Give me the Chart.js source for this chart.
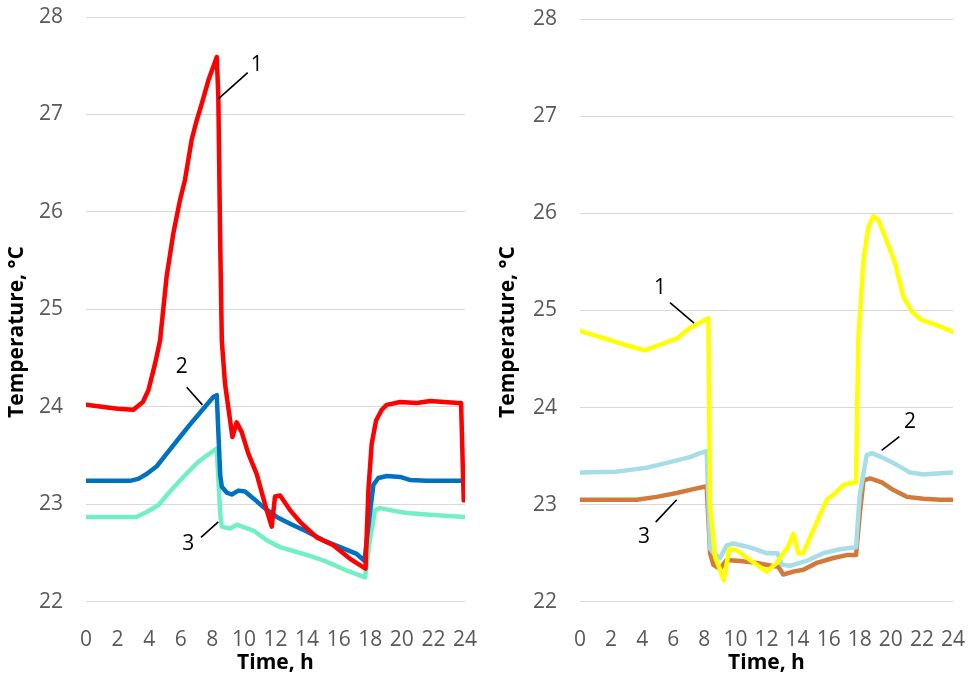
<!DOCTYPE html>
<html>
<head>
<meta charset="utf-8">
<script src="https://cdn.jsdelivr.net/npm/chart.js@4.4.1/dist/chart.umd.min.js"></script>
<style>
    body { margin: 0; background: #ffffff; }
    #left-wrap { position: absolute; left: 0; top: 0; width: 485px; height: 677px; }
    #right-wrap { position: absolute; left: 490px; top: 0; width: 481px; height: 677px; }
</style>
</head>
<body>
<div id="left-wrap"><canvas id="left-chart" width="485" height="677"></canvas></div>
<div id="right-wrap"><canvas id="right-chart" width="481" height="677"></canvas></div>
<script>
// left panel: 1 - red, 2 - blue, 3 - aquamarine
const leftTimes1 = [0, 1, 2, 3, 3.6, 3.95, 4.37, 4.69, 5.1, 5.53, 5.95, 6.27, 6.69, 7.01, 7.33, 7.75, 8.28, 8.38, 8.49, 8.6, 8.8, 9.27, 9.54, 9.86, 10.28, 10.81, 11.44, 11.76, 11.97, 12.29, 12.92, 13.55, 14.61, 15.66, 16.72, 17.7, 17.88, 18.09, 18.37, 18.73, 19.04, 19.89, 20.95, 21.79, 23.58, 23.75, 23.92];
const leftTemps1 = [24.02, 24.0, 23.98, 23.97, 24.05, 24.17, 24.44, 24.68, 25.33, 25.78, 26.12, 26.33, 26.74, 26.94, 27.11, 27.35, 27.59, 27.18, 25.78, 24.68, 24.24, 23.69, 23.84, 23.74, 23.52, 23.31, 22.94, 22.77, 23.08, 23.09, 22.94, 22.82, 22.66, 22.58, 22.44, 22.34, 23.14, 23.62, 23.86, 23.97, 24.02, 24.05, 24.04, 24.06, 24.04, 24.04, 23.04];

const leftTimes2 = [0, 2.78, 3.31, 3.84, 4.48, 5.11, 5.95, 6.8, 7.43, 8.06, 8.28, 8.5, 8.6, 8.91, 9.23, 9.65, 10.07, 10.6, 11.23, 12.08, 12.92, 13.98, 15.03, 16.09, 17.14, 17.63, 17.9, 18.2, 18.52, 19.04, 19.89, 20.5, 21.57, 24];
const leftTemps2 = [23.24, 23.24, 23.26, 23.31, 23.39, 23.52, 23.69, 23.86, 23.98, 24.1, 24.12, 23.3, 23.18, 23.12, 23.1, 23.14, 23.13, 23.06, 22.97, 22.87, 22.8, 22.72, 22.63, 22.56, 22.49, 22.42, 22.8, 23.2, 23.27, 23.29, 23.28, 23.25, 23.24, 23.24];

const leftTimes3 = [0, 3.2, 3.84, 4.58, 5.32, 6.16, 7.01, 7.64, 8.28, 8.5, 8.6, 9.12, 9.54, 10.6, 11.44, 12.29, 13.13, 14.18, 15.24, 16.51, 17.67, 17.95, 18.3, 18.62, 19.25, 20.31, 21.99, 24];
const leftTemps3 = [22.87, 22.87, 22.92, 22.99, 23.13, 23.28, 23.42, 23.5, 23.57, 22.9, 22.77, 22.75, 22.79, 22.73, 22.63, 22.56, 22.52, 22.47, 22.41, 22.32, 22.25, 22.6, 22.94, 22.96, 22.94, 22.91, 22.89, 22.87];

// right panel: 1 - yellow, 2 - light blue, 3 - brown
const rightTimes1 = [0, 1.2, 2.8, 4.18, 5.36, 6.22, 7.08, 8.26, 8.37, 8.69, 9.01, 9.25, 9.6, 10.08, 10.94, 12.01, 12.66, 13.4, 13.73, 14.05, 14.37, 15.02, 15.88, 16.3, 16.95, 17.37, 17.76, 17.91, 18.24, 18.56, 18.88, 19.2, 19.63, 20.27, 20.81, 21.35, 21.99, 22.96, 24];
const rightTemps1 = [24.79, 24.73, 24.65, 24.59, 24.66, 24.71, 24.82, 24.92, 23.0, 22.46, 22.33, 22.22, 22.54, 22.53, 22.43, 22.31, 22.4, 22.57, 22.7, 22.5, 22.5, 22.74, 23.05, 23.1, 23.2, 23.22, 23.23, 24.7, 25.52, 25.86, 25.97, 25.93, 25.76, 25.49, 25.14, 24.99, 24.9, 24.85, 24.78];

const rightTimes2 = [0, 2.36, 4.29, 5.58, 7.08, 7.72, 8.15, 8.37, 8.6, 9.01, 9.44, 9.87, 10.94, 12.01, 12.7, 13.0, 13.51, 14.58, 15.66, 16.73, 17.76, 18.0, 18.45, 18.77, 19.52, 20.38, 21.24, 22.1, 22.96, 24];
const rightTemps2 = [23.33, 23.34, 23.38, 23.43, 23.49, 23.53, 23.55, 22.55, 22.5, 22.45, 22.58, 22.6, 22.56, 22.5, 22.5, 22.38, 22.37, 22.42, 22.5, 22.54, 22.56, 23.1, 23.51, 23.53, 23.48, 23.41, 23.33, 23.31, 23.32, 23.33];

const rightTimes3 = [0, 3.65, 4.93, 6.22, 7.29, 8.15, 8.37, 8.58, 9.01, 9.44, 10.29, 11.37, 12.3, 12.76, 13.08, 13.73, 14.37, 15.23, 16.3, 17.16, 17.76, 18.0, 18.24, 18.67, 19.42, 20.17, 21.03, 22.1, 23.17, 24];
const rightTemps3 = [23.05, 23.05, 23.08, 23.12, 23.16, 23.19, 22.5, 22.38, 22.34, 22.43, 22.42, 22.4, 22.37, 22.36, 22.28, 22.31, 22.33, 22.4, 22.45, 22.48, 22.48, 22.9, 23.25, 23.27, 23.23, 23.15, 23.08, 23.06, 23.05, 23.05];

// curve numbers with leader lines, in [time, temperature]
const noteLabels = ["1", "2", "3"];
const leftNoteText = [[10.81, 27.51], [6.06, 24.41], [6.48, 22.59]];
const leftNoteFrom = [[10.24, 27.43], [6.38, 24.2], [7.28, 22.66]];
const leftNoteTo = [[8.38, 27.16], [7.37, 24.02], [8.38, 22.82]];
const rightNoteText = [[5.15, 25.23], [21.24, 23.85], [4.12, 22.67]];
const rightNoteFrom = [[5.79, 25.08], [20.55, 23.7], [4.87, 22.82]];
const rightNoteTo = [[7.34, 24.87], [19.41, 23.56], [6.22, 23.05]];

const xTitle = "Time, h";
const yTitle = "Temperature, °C";

const FONT = "'Open Sans', sans-serif";

function toPoints(times, temps) {
    return times.map((t, i) => ({ x: t, y: temps[i] }));
}

// draws axis titles and the numbered leader lines
const notesPlugin = {
    id: "notes",
    afterDatasetsDraw(chart, args, opts) {
        const ctx = chart.ctx;
        const xs = chart.scales.x;
        const ys = chart.scales.y;
        const area = chart.chartArea;
        ctx.save();
        ctx.strokeStyle = "#000000";
        ctx.lineWidth = 1.6;
        ctx.fillStyle = "#000000";
        ctx.font = "21px " + FONT;
        ctx.textAlign = "center";
        ctx.textBaseline = "middle";
        opts.labels.forEach((lab, i) => {
            ctx.beginPath();
            ctx.moveTo(xs.getPixelForValue(opts.from[i][0]), ys.getPixelForValue(opts.from[i][1]));
            ctx.lineTo(xs.getPixelForValue(opts.to[i][0]), ys.getPixelForValue(opts.to[i][1]));
            ctx.stroke();
            ctx.fillText(lab, xs.getPixelForValue(opts.text[i][0]), ys.getPixelForValue(opts.text[i][1]));
        });

        ctx.font = "bold 21px " + FONT;
        ctx.fillText(xTitle, (area.left + area.right) / 2, 663);
        ctx.translate(opts.titleX, 332);
        ctx.rotate(-Math.PI / 2);
        ctx.fillText(yTitle, 0, 0);
        ctx.restore();
    },
};

function makeChart(canvas, series, notes, target) {
    return new Chart(canvas, {
        type: "line",
        plugins: [notesPlugin],
        data: {
            datasets: series.map((s) => ({
                data: s.points,
                borderColor: s.color,
                borderWidth: 4.5,
                pointRadius: 0,
                tension: 0,
                borderJoinStyle: "round",
                borderCapStyle: "round",
            })),
        },
        options: {
            responsive: false,
            animation: false,
            layout: {
                padding: {
                    left: 0,
                    right: canvas.width - target.right,
                    top: target.top,
                    bottom: 0,
                },
            },
            plugins: {
                legend: { display: false },
                tooltip: { enabled: false },
                notes: notes,
            },
            scales: {
                x: {
                    type: "linear",
                    min: 0,
                    max: 24,
                    grid: { display: false, drawTicks: false },
                    border: { display: false },
                    afterFit: (s) => {
                        s.height = canvas.height - target.bottom;
                        s.paddingLeft = 0; // keep label overflow from shrinking the plot
                        s.paddingRight = 0;
                    },
                    ticks: {
                        stepSize: 2,
                        autoSkip: false,
                        maxRotation: 0,
                        padding: 26,
                        color: "#595959",
                        font: { family: FONT, size: 21 },
                    },
                },
                y: {
                    min: 22,
                    max: 28,
                    grid: { color: "#d9d9d9", lineWidth: 1, drawTicks: false },
                    border: { display: false },
                    afterFit: (s) => {
                        s.width = target.left;
                        s.paddingTop = 0;
                        s.paddingBottom = 0;
                    },
                    ticks: {
                        stepSize: 1,
                        padding: 23,
                        color: "#595959",
                        font: { family: FONT, size: 21 },
                    },
                },
            },
        },
    });
}

makeChart(
    document.getElementById("left-chart"),
    [
        { points: toPoints(leftTimes1, leftTemps1), color: "#ff0000" },
        { points: toPoints(leftTimes2, leftTemps2), color: "#0070c0" },
        { points: toPoints(leftTimes3, leftTemps3), color: "#72f0c4" },
    ],
    { labels: noteLabels, text: leftNoteText, from: leftNoteFrom, to: leftNoteTo, titleX: 17 },
    { left: 86, top: 17, right: 465, bottom: 601.7 }
);

makeChart(
    document.getElementById("right-chart"),
    [
        { points: toPoints(rightTimes1, rightTemps1), color: "#ffff00" },
        { points: toPoints(rightTimes2, rightTemps2), color: "#a6dde6" },
        { points: toPoints(rightTimes3, rightTemps3), color: "#d2793c" },
    ],
    { labels: noteLabels, text: rightNoteText, from: rightNoteFrom, to: rightNoteTo, titleX: 18 },
    { left: 90, top: 19.3, right: 463, bottom: 601.7 }
);
</script>
</body>
</html>
